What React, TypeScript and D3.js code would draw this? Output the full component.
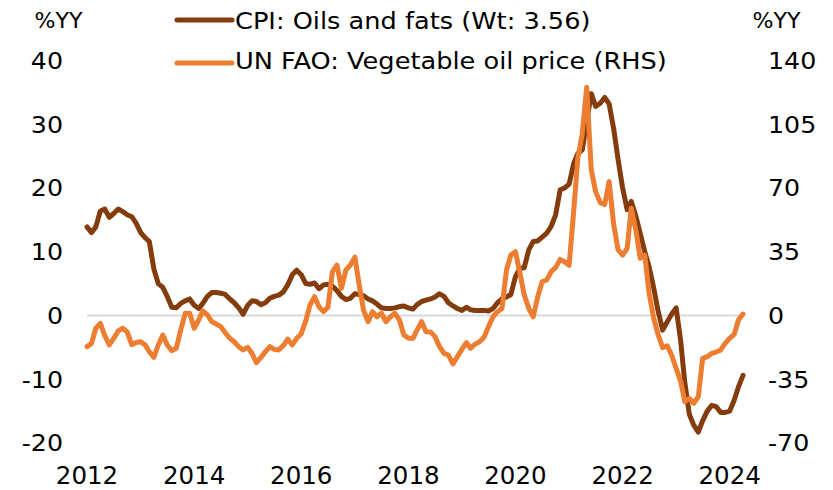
import React from "react";
import * as d3 from "d3";

// Monthly data, Jan 2012 .. Apr 2024
const firstMonth = new Date(2012, 0, 1);
const lastMonth = new Date(2024, 3, 1);

const cpiOilsFats = [
  13.9, 13.0, 13.9, 16.4, 16.7, 15.4, 16.0, 16.7, 16.3, 15.8,
  15.5, 14.5, 13.0, 12.2, 11.6, 7.3, 5.0, 4.4, 3.0, 1.3,
  1.2, 1.9, 2.3, 2.6, 1.6, 1.1, 1.9, 3.0, 3.6, 3.6,
  3.5, 3.3, 2.6, 2.0, 1.2, 0.2, 1.6, 2.3, 2.2, 1.7,
  2.0, 2.7, 3.0, 3.2, 3.7, 4.8, 6.4, 7.1, 6.4, 5.0,
  4.9, 5.1, 4.2, 4.8, 4.9, 4.6, 3.9, 3.0, 2.5, 2.7,
  3.4, 3.3, 3.1, 2.6, 2.3, 1.8, 1.2, 1.1, 1.1, 1.2,
  1.4, 1.5, 1.2, 1.0, 1.7, 2.2, 2.4, 2.6, 2.9, 3.4,
  3.0, 2.0, 1.5, 1.1, 0.8, 1.3, 0.9, 0.8, 0.8, 0.8,
  0.7, 1.1, 2.0, 2.6, 2.9, 3.3, 6.1, 7.4, 7.5, 10.3,
  11.6, 11.7, 12.3, 12.9, 14.0, 15.8, 19.7, 20.0, 20.6, 23.8,
  25.4, 26.0, 30.4, 34.8, 32.8, 33.3, 34.2, 33.2, 29.3, 24.5,
  20.0, 16.6, 17.9, 15.6, 12.9, 10.0, 7.6, 4.3, 0.6, -2.3,
  -1.0, 0.2, 1.2, -4.0, -10.5, -15.5, -17.2, -18.3, -16.5, -15.0,
  -14.1, -14.3, -15.2, -15.2, -15.0, -13.3, -11.2, -9.4,
];

const faoVegOil = [
  -17.1, -15.3, -7.0, -4.3, -11.0, -16.2, -12.5, -8.5, -7.0, -9.0,
  -16.0, -14.8, -14.4, -16.2, -19.9, -23.0, -16.2, -10.7, -16.2, -19.3,
  -18.0, -8.0, 1.2, 1.3, -7.0, -2.5, 2.6, 0.3, -3.4, -4.7,
  -6.1, -9.5, -12.5, -14.4, -17.1, -18.9, -17.5, -21.0, -25.9, -23.0,
  -20.0, -17.1, -18.6, -18.9, -16.5, -13.0, -16.2, -12.5, -10.0, -3.0,
  5.8, 10.3, 4.8, 2.1, 4.5, 24.1, 27.7, 14.9, 25.0, 27.7,
  32.0, 16.0, 3.0, -3.4, 2.1, -0.7, 1.2, -3.4, -0.7, 1.2,
  -2.5, -10.7, -12.5, -12.5, -8.0, -3.4, -8.9, -9.0, -11.6, -17.1,
  -20.8, -21.7, -26.6, -22.6, -18.5, -14.9, -18.0, -15.7, -14.4, -12.0,
  -6.1, -0.7, 2.1, 3.9, 25.0, 33.2, 35.0, 23.2, 11.3, 3.9,
  -0.7, 10.3, 18.6, 19.5, 24.1, 26.3, 30.8, 29.5, 27.5, 57.0,
  86.0, 100.0, 125.3, 80.0, 68.0, 62.0, 61.0, 73.5, 50.0, 36.0,
  33.2, 36.9, 58.9, 47.0, 31.4, 33.2, 12.0, -1.5, -10.7, -17.7,
  -16.6, -21.7, -29.0, -36.3, -47.3, -45.5, -48.2, -44.6, -23.5, -22.6,
  -20.8, -20.1, -18.9, -15.3, -12.5, -10.3, -2.5, 0.8,
];

const yearTicks = [2012, 2014, 2016, 2018, 2020, 2022, 2024];
const leftTicks = [-20, -10, 0, 10, 20, 30, 40];
const rightTicks = [-70, -35, 0, 35, 70, 105, 140];
const axisUnit = "%YY";
const seriesNames = ["CPI: Oils and fats (Wt: 3.56)", "UN FAO: Vegetable oil price (RHS)"];
const seriesColors = ["#843C0C", "#ED7D31"];

const FONT = "DejaVu Sans";

export default function App() {
  const dates = d3.timeMonth.range(firstMonth, d3.timeMonth.offset(lastMonth, 1));
  const x = d3.scaleTime().domain([firstMonth, lastMonth]).range([87, 743]);
  const yL = d3.scaleLinear().domain([-20, 40]).range([443, 60.5]);
  const yR = d3.scaleLinear().domain([-70, 140]).range([443, 60.5]);

  const lineL = d3
    .line<number>()
    .x((_, i) => x(dates[i]))
    .y((d) => yL(d));
  const lineR = d3
    .line<number>()
    .x((_, i) => x(dates[i]))
    .y((d) => yR(d));

  const txt = (
    key: string,
    tx: number,
    ty: number,
    s: string,
    size: number,
    sx: number,
    anchor: "start" | "middle" | "end"
  ) => (
    <text
      key={key}
      transform={`translate(${tx},${ty}) scale(${sx},1)`}
      textAnchor={anchor}
      fontFamily={FONT}
      fontSize={size}
      fill="#000"
    >
      {s}
    </text>
  );

  return (
    <svg
      width={833}
      height={490}
      style={{ position: "absolute", left: 0, top: 0, background: "#fff" }}
    >
      <rect width={833} height={490} fill="#fff" />
      {/* zero gridline */}
      <line x1={87} x2={743} y1={yL(0)} y2={yL(0)} stroke="#D9D9D9" strokeWidth={2} />

      {/* left axis labels */}
      {leftTicks.map((v) => txt(`l${v}`, 63, yL(v) + 8.3, String(v), 23, 1.1, "end"))}
      {/* right axis labels */}
      {rightTicks.map((v) => txt(`r${v}`, 768, yR(v) + 8.3, String(v), 23, 1.1, "start"))}
      {/* x labels */}
      {yearTicks.map((yr) =>
        txt(`x${yr}`, x(new Date(yr, 0, 1)), 483.5, String(yr), 24.5, 1.0, "middle")
      )}
      {/* axis units */}
      {txt("ul", 58.5, 28, axisUnit, 21, 1.05, "middle")}
      {txt("ur", 776.5, 28, axisUnit, 21, 1.05, "middle")}

      {/* series */}
      <path
        d={lineL(cpiOilsFats) || ""}
        fill="none"
        stroke={seriesColors[0]}
        strokeWidth={5}
        strokeLinejoin="round"
        strokeLinecap="round"
      />
      <path
        d={lineR(faoVegOil) || ""}
        fill="none"
        stroke={seriesColors[1]}
        strokeWidth={5}
        strokeLinejoin="round"
        strokeLinecap="round"
      />

      {/* legend */}
      {seriesNames.map((name, i) => {
        const ly = i === 0 ? 20 : 63;
        const by = i === 0 ? 29.3 : 68.8;
        return (
          <g key={name}>
            <line
              x1={177}
              x2={232}
              y1={ly}
              y2={ly}
              stroke={seriesColors[i]}
              strokeWidth={5}
              strokeLinecap="round"
            />
            {txt(`lg${i}`, 235, by, name, 23, 1.115, "start")}
          </g>
        );
      })}
    </svg>
  );
}
